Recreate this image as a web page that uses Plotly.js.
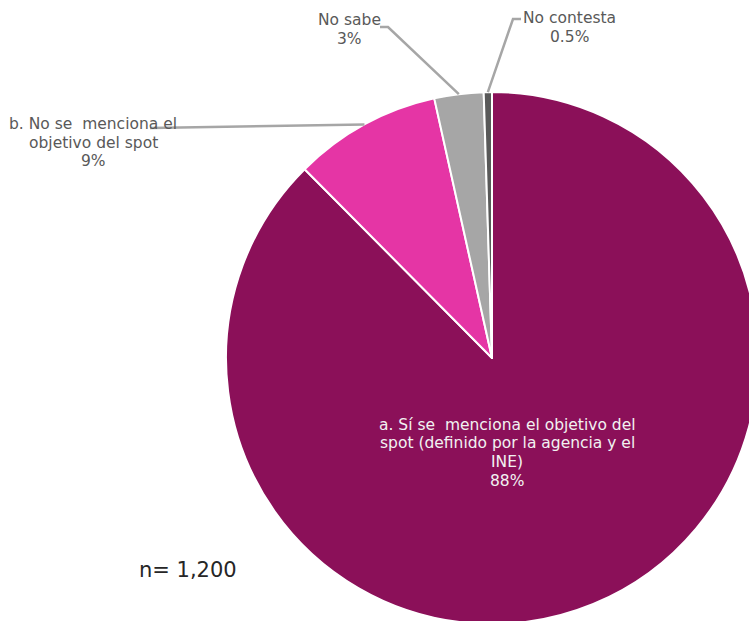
<!DOCTYPE html>
<html>
<head>
<meta charset="utf-8">
<script src="https://cdn.plot.ly/plotly-3.0.1.min.js"></script>
<style>
html,body{margin:0;padding:0;overflow:hidden;background:#fff;width:749px;height:621px;}
#chart{width:800px;height:760px;}
</style>
</head>
<body>
<div id="chart"></div>
<script>
// ---- data ----
const categories = [
  "a. Sí se \u00a0menciona el objetivo del<br>spot (definido por la agencia y el<br>INE)",
  "b. No se \u00a0menciona el<br>objetivo del spot",
  "No sabe",
  "No contesta"
];
const values = [88, 9, 3, 0.5];
const valueLabels = ["88%", "9%", "3%", "0.5%"];
const sampleLabel = "n= 1,200";

// ---- layout constants (pixels in an 800x760 canvas, window shows 749x621) ----
const W = 800, H = 760;
const CX = 492, CY = 358, R = 266;
const colors = ["#8B1059", "#E535A5", "#A6A6A6", "#595959"];
const textColor = "#595959";
const lineColor = "#A6A6A6";
const FONT = "DejaVu Sans";
const FS = 15.5, LH = 18.5;

const px = x => x / W;
const py = y => 1 - y / H;

// label positions (pixel centre x, first-line centre y)
const labelPos = [[507, 425], [93, 124], [349, 20], [569, 18]];
const labelLineStart = [null, [150, 128], [380, 27], [521, 19]];
const labelElbow = [null, null, [388, 27], [513, 19]];

// compute mid-angle edge points from data
const total = values.reduce((a, b) => a + b, 0);
let cum = 0;
const edge = values.map(v => {
  const mid = (cum + v / 2) / total * 2 * Math.PI;
  cum += v;
  return [CX + R * Math.sin(mid), CY - R * Math.cos(mid)];
});

const annotations = [];
categories.forEach((c, i) => {
  const lines = (c + "<br>" + valueLabels[i]).split("<br>");
  lines.forEach((ln, k) => {
    annotations.push({
      x: px(labelPos[i][0]), y: py(labelPos[i][1] + k * LH), xref: "paper", yref: "paper",
      text: ln, showarrow: false, xanchor: "center", yanchor: "middle",
      font: {family: FONT, size: FS, color: i === 0 ? "#F2F2F2" : textColor}
    });
  });
});
annotations.push({
  x: px(188), y: py(570), xref: "paper", yref: "paper", text: sampleLabel,
  showarrow: false, xanchor: "center", yanchor: "middle",
  font: {family: FONT, size: 21, color: "#262626"}
});

const shapes = [];
for (let i = 1; i < categories.length; i++) {
  const pts = [labelLineStart[i]];
  if (labelElbow[i]) pts.push(labelElbow[i]);
  pts.push(edge[i]);
  let path = "M " + px(pts[0][0]) + "," + py(pts[0][1]);
  for (let k = 1; k < pts.length; k++) path += " L " + px(pts[k][0]) + "," + py(pts[k][1]);
  shapes.push({type: "path", xref: "paper", yref: "paper", path: path,
    line: {color: lineColor, width: 2.5}});
}

const trace = {
  type: "pie",
  labels: categories,
  values: values,
  sort: false,
  direction: "clockwise",
  rotation: 0,
  textinfo: "none",
  hoverinfo: "label+percent",
  marker: {colors: colors, line: {color: "#FFFFFF", width: 2}},
  domain: {x: [(CX - R) / W, (CX + R) / W], y: [1 - (CY + R) / H, 1 - (CY - R) / H]},
  showlegend: false
};

Plotly.newPlot("chart", [trace], {
  width: W, height: H,
  margin: {l: 0, r: 0, t: 0, b: 0},
  paper_bgcolor: "#FFFFFF",
  showlegend: false,
  annotations: annotations,
  shapes: shapes
}, {staticPlot: true});
</script>
</body>
</html>
